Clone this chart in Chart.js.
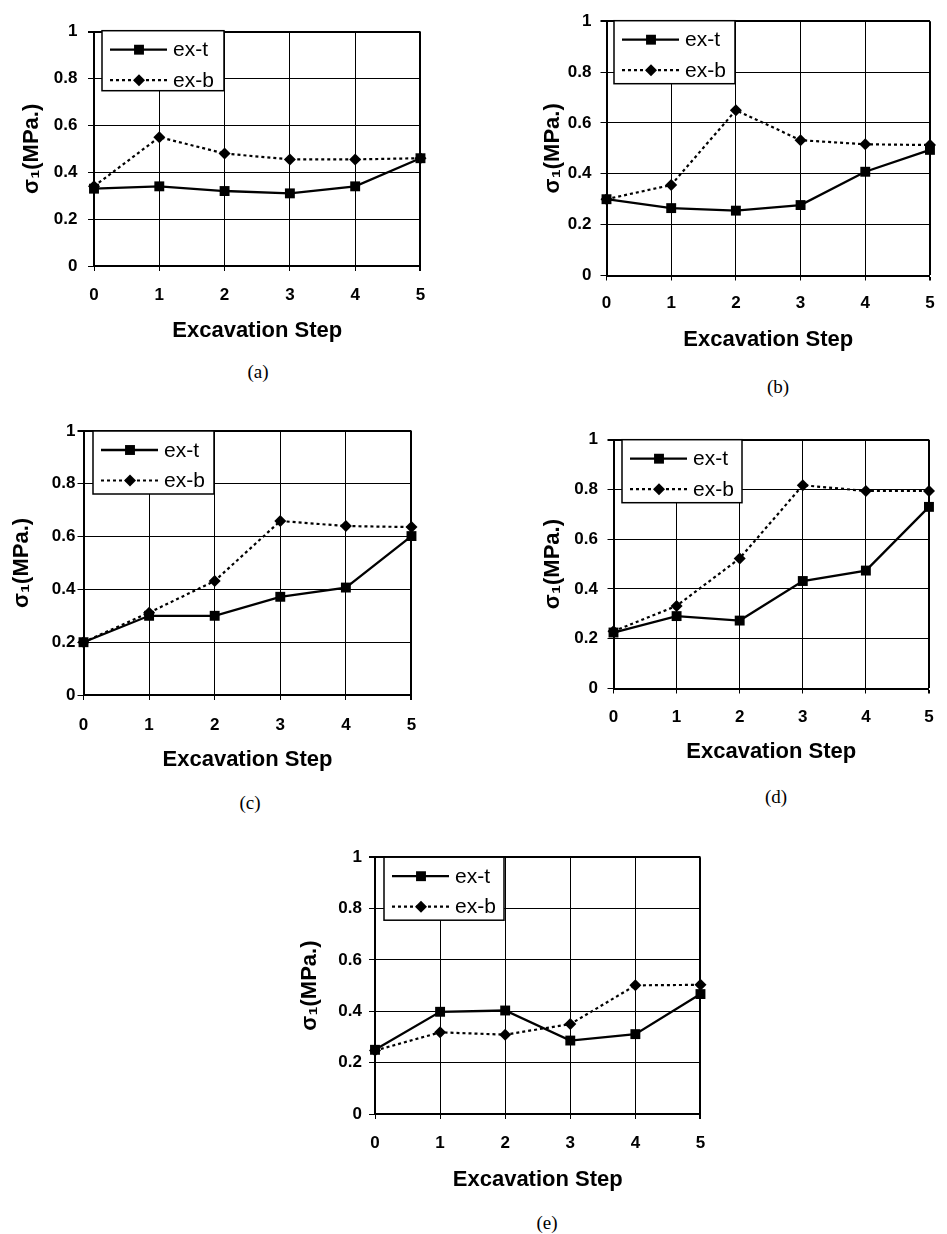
<!DOCTYPE html>
<html><head><meta charset="utf-8">
<script src="https://cdn.jsdelivr.net/npm/chart.js@4.4.1/dist/chart.umd.min.js"></script>
<style>
html,body{margin:0;padding:0;background:#fff;width:947px;height:1234px;overflow:hidden;}
#wrap{position:relative;width:947px;height:1234px;}
canvas{position:absolute;}
.cap{position:absolute;font-family:"Liberation Serif","Times New Roman",serif;font-size:19px;color:#000;transform:translate(-50%,-50%);white-space:nowrap;}
</style></head><body><div id="wrap"></div>
<script>
// ---- data ----
const steps = ['0','1','2','3','4','5'];
const yTickLabels = ['0','0.2','0.4','0.6','0.8','1'];
const seriesNames = ['ex-t','ex-b'];
const xAxisTitle = 'Excavation Step';
const yAxisTitle = 'σ₁(MPa.)';
const captions = ['(a)','(b)','(c)','(d)','(e)'];

const exT_a = [0.33, 0.34, 0.32, 0.31, 0.34, 0.46];
const exB_a = [0.34, 0.55, 0.48, 0.455, 0.455, 0.46];
const exT_b = [0.30, 0.265, 0.255, 0.277, 0.408, 0.494];
const exB_b = [0.30, 0.356, 0.65, 0.532, 0.516, 0.513];
const exT_c = [0.20, 0.30, 0.30, 0.372, 0.407, 0.602];
const exB_c = [0.20, 0.312, 0.432, 0.659, 0.640, 0.636];
const exT_d = [0.225, 0.291, 0.273, 0.432, 0.474, 0.730];
const exB_d = [0.23, 0.332, 0.523, 0.817, 0.794, 0.794];
const exT_e = [0.25, 0.398, 0.403, 0.286, 0.311, 0.467];
const exB_e = [0.247, 0.318, 0.309, 0.35, 0.501, 0.503];

// ---- layout (page pixel positions) ----
const layouts = [
  {L:94,   T:24.5, R:424.5, B:266,   ytx:32,  yPad:10.5, xPad:13.8, xtY:331,  cap:[258,372],  lg:{dx:8,   dy:-1,   w:122, h:60}, rp:14},
  {L:606.5,T:15.5, R:939.5, B:275.5, ytx:553, yPad:9,    xPad:12.3, xtY:340,  cap:[778,387],  lg:{dx:7.5, dy:-0.5, w:121, h:63}, rp:7},
  {L:83.5, T:431,  R:416.5, B:695,   ytx:22,  yPad:2,    xPad:14.8, xtY:760,  cap:[250,803],  lg:{dx:9.5, dy:0,    w:121, h:63}, rp:14},
  {L:613.5,T:433.5,R:937.5, B:688.5, ytx:553, yPad:9.5,  xPad:13.3, xtY:752,  cap:[776,797],  lg:{dx:8.5, dy:0,    w:120, h:63}, rp:9},
  {L:375,  T:854,  R:705,   B:1114,  ytx:310, yPad:7,    xPad:13.8, xtY:1180, cap:[547,1223], lg:{dx:9,   dy:0,    w:120, h:63}, rp:14}
];

const FAM = '"Liberation Sans", Arial, sans-serif';

const boxLegend = {
  id: 'boxLegend',
  afterDraw(chart, args, opts) {
    const ctx = chart.ctx, a = chart.chartArea;
    const x = a.left + opts.dx, y = a.top + opts.dy, w = opts.w, h = opts.h;
    ctx.save();
    ctx.fillStyle = '#fff';
    ctx.fillRect(x, y, w, h);
    ctx.strokeStyle = '#000';
    ctx.lineWidth = 1.5;
    ctx.setLineDash([]);
    ctx.strokeRect(x, y, w, h);
    chart.data.datasets.forEach((ds, i) => {
      const ry = y + (i === 0 ? 19 : 49.5);
      ctx.beginPath();
      ctx.setLineDash(ds.borderDash || []);
      ctx.lineWidth = ds.borderWidth;
      ctx.strokeStyle = '#000';
      ctx.moveTo(x + 8, ry);
      ctx.lineTo(x + 65, ry);
      ctx.stroke();
      ctx.setLineDash([]);
      ctx.fillStyle = '#000';
      const cx = x + 37;
      ctx.beginPath();
      if (ds.pointStyle === 'rect') {
        const s = ds.pointRadius * Math.SQRT1_2;
        ctx.rect(cx - s, ry - s, 2 * s, 2 * s);
      } else {
        const r = ds.pointRadius;
        ctx.moveTo(cx, ry - r); ctx.lineTo(cx + r, ry); ctx.lineTo(cx, ry + r); ctx.lineTo(cx - r, ry); ctx.closePath();
      }
      ctx.fill();
      ctx.font = '21px ' + FAM;
      ctx.textBaseline = 'middle';
      ctx.textAlign = 'left';
      ctx.fillText(ds.label, x + 71, ry + 1);
    });
    ctx.restore();
  }
};

function makeChart(i, exT, exB) {
  const g = layouts[i];
  const yTitleSize = 22, xTitleSize = 22, tickSize = 17;
  const cLeft = Math.round(g.ytx - yTitleSize * 1.2 / 2);
  const cTop = Math.round(g.T - 14);
  const padTop = g.T - cTop;
  const cBottom = g.xtY + xTitleSize * 1.2 / 2;
  const W = Math.round(g.R + g.rp - cLeft);
  const H = Math.round(cBottom - cTop);
  const padRight = W - (g.R - cLeft);
  const yW = g.L - cLeft;
  const xH = H - (g.B - cTop);

  const cv = document.createElement('canvas');
  cv.width = W; cv.height = H;
  cv.style.left = cLeft + 'px'; cv.style.top = cTop + 'px';
  cv.style.width = W + 'px'; cv.style.height = H + 'px';
  document.getElementById('wrap').appendChild(cv);

  const cap = document.createElement('div');
  cap.className = 'cap';
  cap.textContent = captions[i];
  cap.style.left = g.cap[0] + 'px'; cap.style.top = g.cap[1] + 'px';
  document.getElementById('wrap').appendChild(cap);

  new Chart(cv.getContext('2d'), {
    type: 'line',
    data: {
      labels: steps,
      datasets: [
        {label: seriesNames[0], data: exT, borderColor:'#000', backgroundColor:'#000', borderWidth:2.3,
         pointStyle:'rect', pointRadius:7, pointBorderWidth:0, pointBackgroundColor:'#000', tension:0, clip:false},
        {label: seriesNames[1], data: exB, borderColor:'#000', backgroundColor:'#000', borderWidth:2.2, borderDash:[3,3],
         pointStyle:'rectRot', pointRadius:6, pointBorderWidth:0, pointBackgroundColor:'#000', tension:0, clip:false}
      ]
    },
    options: {
      responsive: false,
      animation: false,
      devicePixelRatio: 1,
      layout: {padding: {left:0, top:padTop, right:padRight, bottom:0}},
      plugins: {legend:{display:false}, tooltip:{enabled:false}, boxLegend: g.lg},
      scales: {
        x: {
          type: 'category', offset: false,
          ticks: {color:'#000', font:{family:FAM, size:tickSize, weight:'bold'}, padding:g.xPad, maxRotation:0, autoSkip:false},
          grid: {color:'#000', lineWidth: c => (c.index === 5 ? 2 : 1), tickLength:5, drawTicks:true},
          border: {color:'#000', width:2},
          title: {display:true, text:xAxisTitle, color:'#000', font:{family:FAM, size:xTitleSize, weight:'bold'}, padding:0},
          afterFit: s => { s.height = xH; }
        },
        y: {
          min: 0, max: 1,
          ticks: {stepSize:0.2, color:'#000', font:{family:FAM, size:tickSize, weight:'bold'}, padding:g.yPad,
                  callback: (v, idx) => yTickLabels[idx]},
          grid: {color:'#000', lineWidth: c => (c.index === 5 ? 2 : 1), tickLength:6, drawTicks:true},
          border: {color:'#000', width:2},
          title: {display:true, text:yAxisTitle, color:'#000', font:{family:FAM, size:yTitleSize, weight:'bold'}, padding:0},
          afterFit: s => { s.width = yW; }
        }
      }
    },
    plugins: [boxLegend]
  });
}

makeChart(0, exT_a, exB_a);
makeChart(1, exT_b, exB_b);
makeChart(2, exT_c, exB_c);
makeChart(3, exT_d, exB_d);
makeChart(4, exT_e, exB_e);
</script></body></html>
